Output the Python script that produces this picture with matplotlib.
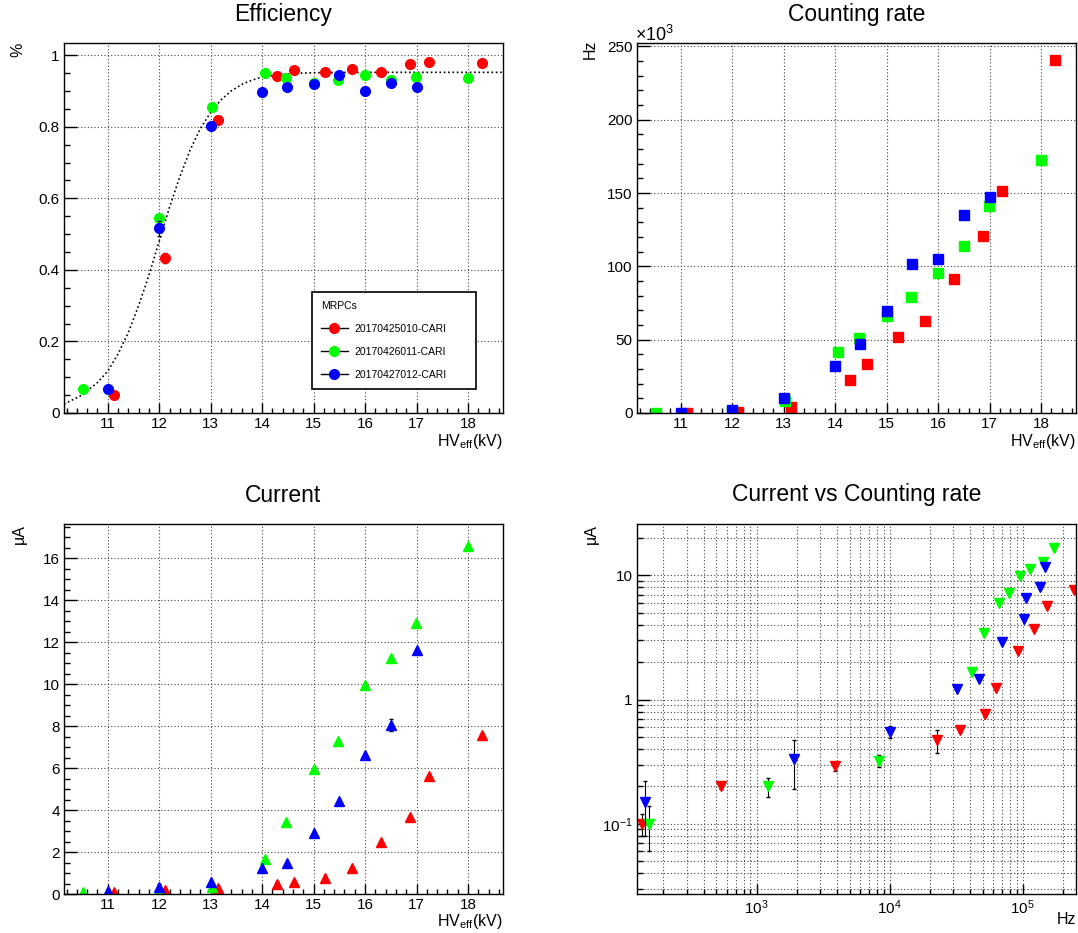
import matplotlib
matplotlib.use("Agg")
import numpy as np
import matplotlib.pyplot as plt
from matplotlib.lines import Line2D
from matplotlib.ticker import MultipleLocator, FixedLocator, FixedFormatter, LogLocator, NullFormatter

plt.rcParams["font.family"] = ["Liberation Sans", "DejaVu Sans"]
plt.rcParams["mathtext.fontset"] = "custom"
plt.rcParams["mathtext.rm"] = "Liberation Sans"
plt.rcParams["mathtext.it"] = "Liberation Sans"

# HV_eff (kV) per MRPC
hv_red = [11.12, 12.11, 13.15, 14.29, 14.61, 15.23, 15.75, 16.31, 16.87, 17.25, 18.28]
hv_green = [10.52, 12.0, 13.03, 14.05, 14.47, 15.0, 15.47, 16.0, 16.5, 16.99, 18.0]
hv_blue = [11.0, 12.0, 13.0, 14.0, 14.48, 15.0, 15.5, 16.0, 16.5, 17.0]

# efficiency
eff_red = [0.049, 0.433, 0.820, 0.941, 0.958, 0.952, 0.960, 0.952, 0.976, 0.981, 0.978]
eff_green = [0.068, 0.544, 0.855, 0.949, 0.935, 0.922, 0.930, 0.945, 0.930, 0.939, 0.936]
eff_blue = [0.068, 0.516, 0.801, 0.898, 0.912, 0.920, 0.945, 0.900, 0.922, 0.911]
eff_red_err = [0.005, 0.015, 0.01, 0.008, 0.008, 0.006, 0.006, 0.006, 0.005, 0.005, 0.005]
eff_green_err = [0.006, 0.012, 0.008, 0.006, 0.006, 0.006, 0.006, 0.006, 0.006, 0.006, 0.006]
eff_blue_err = [0.006, 0.02, 0.01, 0.006, 0.006, 0.006, 0.006, 0.006, 0.006, 0.006]

# fit curve
fit_hv = [10.15, 10.5, 10.8, 11.0, 11.2, 11.4, 11.6, 11.8, 12.0, 12.2, 12.4, 12.6,
          12.8, 13.0, 13.2, 13.4, 13.6, 13.8, 14.0, 14.3, 14.6, 15.0, 16.0, 18.68]
fit_eff = [0.025, 0.05, 0.085, 0.117, 0.165, 0.225, 0.30, 0.385, 0.48, 0.575, 0.66, 0.735,
           0.795, 0.84, 0.875, 0.90, 0.918, 0.93, 0.939, 0.945, 0.949, 0.951, 0.952, 0.952]

# counting rate (kHz)
rate_red = [0.138, 0.54, 3.9, 22.8, 33.5, 51.8, 63.0, 91.3, 120.5, 151.5, 240.5]
rate_green = [0.156, 1.22, 8.3, 41.8, 51.0, 66.3, 78.8, 95.8, 113.8, 141.2, 172.3]
rate_blue = [0.145, 1.9, 10.0, 31.8, 47.0, 69.5, 101.3, 104.8, 134.8, 147.5]

# current (uA)
cur_red = [0.10, 0.20, 0.29, 0.47, 0.57, 0.76, 1.24, 2.46, 3.68, 5.62, 7.58]
cur_green = [0.10, 0.20, 0.32, 1.66, 3.42, 5.95, 7.27, 9.95, 11.25, 12.9, 16.58]
cur_blue = [0.15, 0.33, 0.55, 1.22, 1.46, 2.92, 4.45, 6.6, 8.05, 11.62]
cur_red_err = [0.02, 0.01, 0.025, 0.1, 0.02, 0.02, 0.03, 0.04, 0.05, 0.05, 0.05]
cur_green_err = [0.04, 0.035, 0.035, 0.03, 0.03, 0.03, 0.03, 0.04, 0.04, 0.05, 0.05]
cur_blue_err = [0.07, 0.14, 0.06, 0.03, 0.03, 0.03, 0.04, 0.05, 0.3, 0.05]

names = ["20170425010-CARI", "20170426011-CARI", "20170427012-CARI"]
colors = ["#ff0000", "#00ff00", "#0000ff"]

W, H = 1078, 933
fig = plt.figure(figsize=(W / 100, H / 100), dpi=100)


def rect(l, t, r, b):
    return [l / W, 1 - b / H, (r - l) / W, (b - t) / H]


def style(ax):
    for s in ax.spines.values():
        s.set_linewidth(1.0)
    ax.tick_params(which="both", direction="in", top=False, right=False, labelsize=11, pad=3)
    ax.tick_params(axis="x", which="major", length=7, width=1)
    ax.tick_params(axis="x", which="minor", length=3.5, width=1)
    ax.tick_params(axis="y", which="major", length=9, width=1)
    ax.tick_params(axis="y", which="minor", length=4.5, width=1)
    ax.grid(True, which="major", color="#444444", linestyle=(0, (1, 2)), linewidth=0.8)
    ax.set_axisbelow(True)


def hv_axis(ax):
    ax.set_xlim(10.15, 18.68)
    ax.xaxis.set_major_locator(MultipleLocator(1))
    ax.xaxis.set_minor_locator(MultipleLocator(0.2))


hv = [hv_red, hv_green, hv_blue]
eff = [eff_red, eff_green, eff_blue]
eff_err = [eff_red_err, eff_green_err, eff_blue_err]
rate = [rate_red, rate_green, rate_blue]
cur = [cur_red, cur_green, cur_blue]
cur_err = [cur_red_err, cur_green_err, cur_blue_err]

# --- Efficiency ---
ax1 = fig.add_axes(rect(64, 43, 503, 413))
style(ax1)
hv_axis(ax1)
ax1.set_ylim(0, 1.034)
ax1.yaxis.set_major_locator(FixedLocator([0, 0.2, 0.4, 0.6, 0.8, 1.0]))
ax1.yaxis.set_major_formatter(FixedFormatter(["0", "0.2", "0.4", "0.6", "0.8", "1"]))
ax1.yaxis.set_minor_locator(MultipleLocator(0.05))
ax1.plot(fit_hv, fit_eff, color="black", linestyle=(0, (1, 1.6)), linewidth=1.2)
handles = []
for x, y, e, c in zip(hv, eff, eff_err, colors):
    ax1.errorbar(x, y, yerr=e, fmt="none", ecolor="black", elinewidth=0.8, capsize=1.5)
    ax1.plot(x, y, "o", color=c, ms=7, mec=c, linestyle="none")
    handles.append(Line2D([0], [0], color="black", lw=1, marker="o", ms=7, mfc=c, mec=c))
lx0 = (312 - 64) / 439
ly0 = (413 - 292) / 370
lw_ = (476 - 312) / 439
leg = ax1.legend(handles, names, title="MRPCs", loc="upper left",
                 bbox_to_anchor=(lx0, ly0 - 0.3, lw_, 0.3), mode="expand",
                 fontsize=7.5, title_fontsize=7.5, alignment="left",
                 frameon=True, fancybox=False, edgecolor="black", framealpha=1,
                 handlelength=2.6, handletextpad=0.6, labelspacing=1.25,
                 borderpad=0.85, borderaxespad=0)
leg.get_frame().set_linewidth(1.2)

# --- Counting rate ---
ax2 = fig.add_axes(rect(637, 43, 1076, 413))
style(ax2)
hv_axis(ax2)
ax2.set_ylim(0, 252.3)
ax2.yaxis.set_major_locator(MultipleLocator(50))
ax2.yaxis.set_minor_locator(MultipleLocator(10))
for x, y, c in zip(hv, rate, colors):
    ax2.plot(x, y, "s", color=c, mec=c, ms=7, linestyle="none")

# --- Current ---
ax3 = fig.add_axes(rect(64, 524, 503, 894))
style(ax3)
hv_axis(ax3)
ax3.set_ylim(0, 17.62)
ax3.yaxis.set_major_locator(MultipleLocator(2))
ax3.yaxis.set_minor_locator(MultipleLocator(0.5))
for x, y, e, c in zip(hv, cur, cur_err, colors):
    ax3.errorbar(x, y, yerr=e, fmt="none", ecolor="black", elinewidth=0.8, capsize=1.5)
    ax3.plot(x, y, "^", color=c, mec=c, ms=7.5, linestyle="none")

# --- Current vs Counting rate ---
ax4 = fig.add_axes(rect(637, 524, 1076, 894))
ax4.set_xscale("log")
ax4.set_yscale("log")
style(ax4)
ax4.grid(True, which="minor", color="#444444", linestyle=(0, (1, 2)), linewidth=0.8)
ax4.set_xlim(126.5, 2.51e5)
ax4.set_ylim(0.0272, 25.9)
ax4.xaxis.set_major_locator(FixedLocator([1e3, 1e4, 1e5]))
ax4.xaxis.set_major_formatter(FixedFormatter([r"$10^{3}$", r"$10^{4}$", r"$10^{5}$"]))
ax4.xaxis.set_minor_locator(LogLocator(base=10, subs=np.arange(2, 10), numticks=20))
ax4.xaxis.set_minor_formatter(NullFormatter())
ax4.yaxis.set_major_locator(FixedLocator([0.1, 1, 10]))
ax4.yaxis.set_major_formatter(FixedFormatter([r"$10^{-1}$", "1", "10"]))
ax4.yaxis.set_minor_locator(LogLocator(base=10, subs=np.arange(2, 10), numticks=20))
ax4.yaxis.set_minor_formatter(NullFormatter())
for r, y, e, c in zip(rate, cur, cur_err, colors):
    xr = np.array(r) * 1000
    ax4.errorbar(xr, y, yerr=e, fmt="none", ecolor="black", elinewidth=0.8, capsize=1.5)
    ax4.plot(xr, y, "v", color=c, mec=c, ms=7.5, linestyle="none")

# titles and axis labels (ROOT-style placement)
title_kw = dict(fontsize=16.5, ha="center", va="center")
fig.text(283.5 / W, 1 - 15 / H, "Efficiency", **title_kw)
fig.text(856.5 / W, 1 - 15 / H, "Counting rate", **title_kw)
fig.text(283.5 / W, 1 - 495 / H, "Current", **title_kw)
fig.text(856.5 / W, 1 - 495 / H, "Current vs Counting rate", **title_kw)

lab_kw = dict(fontsize=11.5)
xl = r"HV$_{\mathregular{eff}}$(kV)"
fig.text(503 / W, 1 - 432 / H, xl, ha="right", va="top", **lab_kw)
fig.text(1076 / W, 1 - 432 / H, xl, ha="right", va="top", **lab_kw)
fig.text(503 / W, 1 - 912 / H, xl, ha="right", va="top", **lab_kw)
fig.text(1076 / W, 1 - 912 / H, "Hz", ha="right", va="top", **lab_kw)
fig.text(18 / W, 1 - 43 / H, "%", rotation=90, ha="center", va="top", **lab_kw)
fig.text(590 / W, 1 - 40 / H, "Hz", rotation=90, ha="center", va="top", **lab_kw)
fig.text(19 / W, 1 - 524 / H, "µA", rotation=90, ha="center", va="top", **lab_kw)
fig.text(591 / W, 1 - 524 / H, "µA", rotation=90, ha="center", va="top", **lab_kw)
fig.text(635 / W, 1 - 45 / H, r"$\times$10$^{3}$", ha="left", va="bottom", fontsize=13)

fig.savefig("out.png", dpi=100)
